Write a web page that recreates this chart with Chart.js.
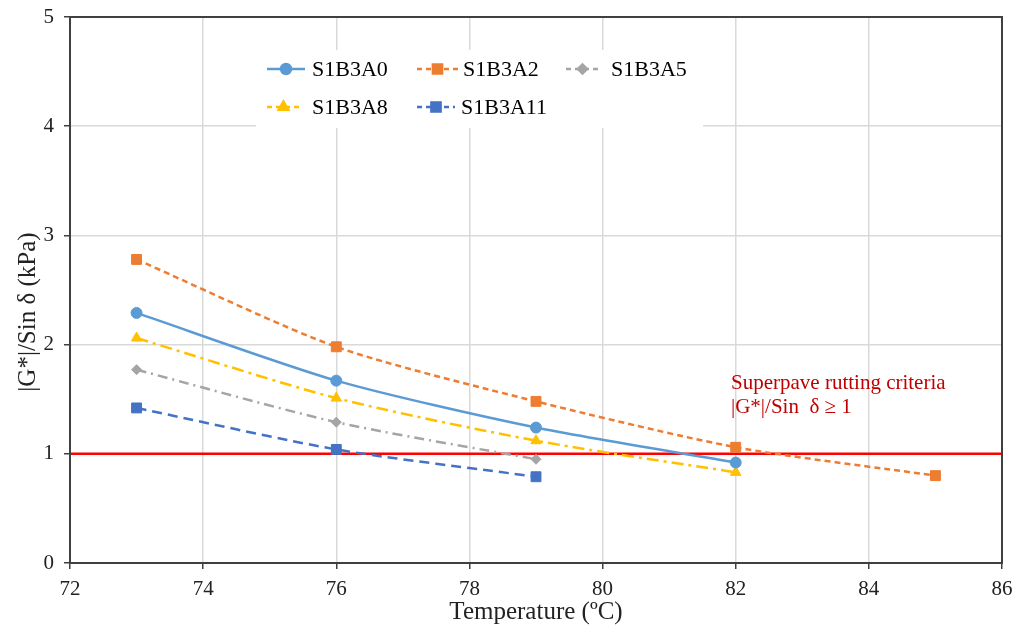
<!DOCTYPE html>
<html>
<head>
<meta charset="utf-8">
<script src="https://cdn.jsdelivr.net/npm/chart.js@4"></script>
<style>
  html, body { margin: 0; padding: 0; background: #fff; }
  #wrap { width: 1020px; height: 629px; position: relative; }
</style>
</head>
<body>
<div id="wrap"><canvas id="gChart" width="1020" height="629"></canvas></div>
<script>
// Datos
const temps = [73, 76, 79, 82, 85];
const xTicks = [72, 74, 76, 78, 80, 82, 84, 86];
const yTicks = [0, 1, 2, 3, 4, 5];

const seriesNames = ['S1B3A0', 'S1B3A2', 'S1B3A5', 'S1B3A8', 'S1B3A11'];
const valsA0 = [2.29, 1.67, 1.24, 0.92];
const valsA2 = [2.78, 1.98, 1.48, 1.06, 0.80];
const valsA5 = [1.77, 1.29, 0.95];
const valsA8 = [2.06, 1.51, 1.12, 0.83];
const valsA11 = [1.42, 1.04, 0.79];

const criteriaY = 1;
const criteriaText = ['Superpave rutting criteria', '|G*|/Sin  δ ≥ 1'];
const yTitle = '|G*|/Sin δ (kPa)';

const serif = "'Liberation Serif', 'Times New Roman', serif";

function pts(vals) {
    return vals.map((v, i) => ({ x: temps[i], y: v }));
}

const styles = [
    { color: '#5B9BD5', dash: [], point: 'circle', r: 5.5 },
    { color: '#ED7D31', dash: [6, 4], point: 'rect', r: 7 },
    { color: '#A5A5A5', dash: [10, 5, 2, 5], point: 'rectRot', r: 5 },
    { color: '#FFC000', dash: [12, 5, 3, 5], point: 'triangle', r: 6 },
    { color: '#4472C4', dash: [10, 6], point: 'rect', r: 7 }
];
const allVals = [valsA0, valsA2, valsA5, valsA8, valsA11];

const datasets = allVals.map((vals, i) => ({
    label: seriesNames[i],
    data: pts(vals),
    borderColor: styles[i].color,
    backgroundColor: styles[i].color,
    borderDash: styles[i].dash,
    borderWidth: 2.5,
    pointStyle: styles[i].point,
    pointRadius: styles[i].r,
    pointBorderWidth: 1,
    tension: 0.25,
    fill: false
}));

datasets.push({
    label: 'criteria',
    data: [{ x: xTicks[0], y: criteriaY }, { x: xTicks[xTicks.length - 1], y: criteriaY }],
    borderColor: '#FF0000',
    borderWidth: 2.5,
    pointRadius: 0,
    tension: 0,
    fill: false
});

// Leyenda dibujada dentro del área del gráfico
const legendPlugin = {
    id: 'innerLegend',
    afterDatasetsDraw(chart) {
        const ctx = chart.ctx;
        ctx.save();
        ctx.fillStyle = '#fff';
        ctx.fillRect(256, 50, 447, 78);
        const items = [
            { i: 0, x0: 267, x1: 305, tx: 312, y: 69 },
            { i: 1, x0: 417, x1: 458, tx: 463, y: 69 },
            { i: 2, x0: 566, x1: 599, tx: 611, y: 69 },
            { i: 3, x0: 267, x1: 300, tx: 312, y: 107 },
            { i: 4, x0: 417, x1: 455, tx: 461, y: 107 }
        ];
        ctx.font = '22px ' + serif;
        ctx.textBaseline = 'middle';
        items.forEach(it => {
            const st = styles[it.i];
            ctx.strokeStyle = st.color;
            ctx.lineWidth = 2.5;
            ctx.setLineDash(st.dash.length ? [5, 4] : []);
            ctx.beginPath();
            ctx.moveTo(it.x0, it.y);
            ctx.lineTo(it.x1, it.y);
            ctx.stroke();
            ctx.setLineDash([]);
            ctx.fillStyle = st.color;
            Chart.helpers.drawPoint(ctx, {
                pointStyle: st.point, radius: st.r - 0.5, borderWidth: 1
            }, (it.x0 + it.x1) / 2, it.y);
            ctx.fillStyle = '#000';
            ctx.fillText(seriesNames[it.i], it.tx, it.y + 1);
        });
        // Texto del criterio
        ctx.fillStyle = '#C00000';
        ctx.font = '21px ' + serif;
        ctx.fillText(criteriaText[0], 731, 383);
        ctx.fillText(criteriaText[1], 731, 407);
        // Marco del área
        const a = chart.chartArea;
        ctx.strokeStyle = '#404040';
        ctx.lineWidth = 2;
        ctx.strokeRect(a.left, a.top, a.right - a.left, a.bottom - a.top);
        ctx.restore();
    },
    afterDraw(chart) {
        // Título del eje Y (algo desplazado hacia abajo, como en el original)
        const ctx = chart.ctx;
        ctx.save();
        ctx.translate(28, 312);
        ctx.rotate(-Math.PI / 2);
        ctx.font = '25px ' + serif;
        ctx.fillStyle = '#222';
        ctx.textAlign = 'center';
        ctx.textBaseline = 'middle';
        ctx.fillText(yTitle, 0, 0);
        ctx.restore();
    }
};

new Chart(document.getElementById('gChart'), {
    type: 'line',
    data: { datasets: datasets },
    options: {
        responsive: false,
        animation: false,
        layout: { padding: { top: 17, right: 18, left: 0, bottom: 0 } },
        plugins: {
            legend: { display: false },
            tooltip: { enabled: false }
        },
        scales: {
            x: {
                type: 'linear',
                min: 72, max: 86,
                afterBuildTicks: s => { s.ticks = xTicks.map(v => ({ value: v })); },
                afterFit: s => { s.height = 66; s.paddingLeft = 0; s.paddingRight = 0; },
                grid: { color: '#D9D9D9', lineWidth: 1.5, tickColor: '#404040', tickLength: 6 },
                border: { color: '#404040', width: 2 },
                ticks: { color: '#222', font: { family: serif, size: 21 }, padding: 8 },
                title: {
                    display: true, text: 'Temperature (ºC)', color: '#222',
                    font: { family: serif, size: 25 }, padding: { top: 0, bottom: 2 }
                }
            },
            y: {
                min: 0, max: 5,
                afterBuildTicks: s => { s.ticks = yTicks.map(v => ({ value: v })); },
                afterFit: s => { s.width = 70; s.paddingTop = 0; s.paddingBottom = 0; },
                grid: { color: '#D9D9D9', lineWidth: 1.5, tickColor: '#404040', tickLength: 6 },
                border: { color: '#404040', width: 2 },
                ticks: { color: '#222', font: { family: serif, size: 21 }, padding: 10 }
            }
        }
    },
    plugins: [legendPlugin]
});
</script>
</body>
</html>
